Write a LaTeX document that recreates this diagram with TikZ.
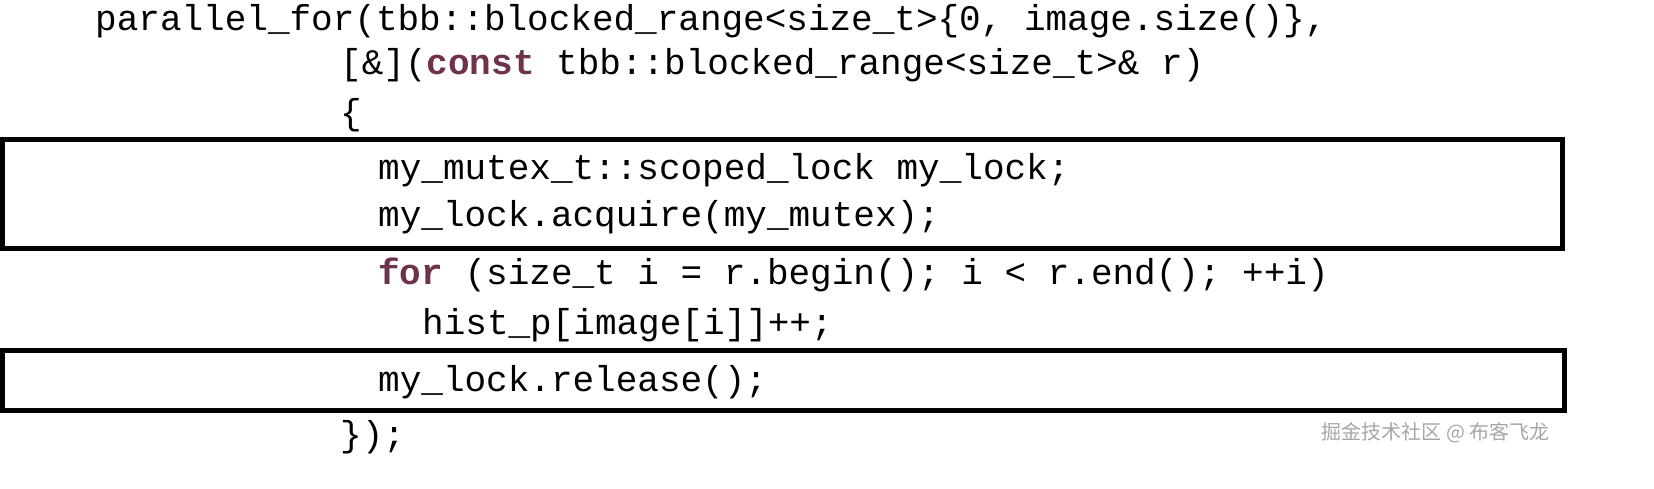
\documentclass[tikz,border=0pt]{standalone}
\usepackage{fontspec}
\setmonofont{Liberation Mono}
\newfontfamily\cjk{Noto Sans CJK SC}
\definecolor{keyword}{RGB}{110,50,75}
\newcommand{\kw}[1]{\textcolor{keyword}{\textbf{#1}}}

\begin{document}
\begin{tikzpicture}[x=1pt, y=1pt,
    codeline/.style = {anchor=mid west, inner sep=0pt, font=\fontsize{36}{36}\selectfont\ttfamily},
    lockbox/.style = {draw, line width=5pt}]

        % Fix the page to the size of the reference.
        \useasboundingbox (0,0) rectangle (1654,-488);

        % Lines of the listing.
        \node[codeline] (head)  at (95,-28)  {parallel\_for(tbb::blocked\_range<size\_t>\{0, image.size()\},};
        \node[codeline] (lambda) at (340,-72) {[\&](\kw{const} tbb::blocked\_range<size\_t>\& r)};
        \node[codeline] (open)  at (340,-122) {\{};
        \node[codeline] (decl)  at (378,-177) {my\_mutex\_t::scoped\_lock my\_lock;};
        \node[codeline] (acq)   at (378,-224) {my\_lock.acquire(my\_mutex);};
        \node[codeline] (loop)  at (378,-282) {\kw{for} (size\_t i = r.begin(); i < r.end(); ++i)};
        \node[codeline] (body)  at (422,-332) {hist\_p[image[i]]++;};
        \node[codeline] (rel)   at (378,-389) {my\_lock.release();};
        \node[codeline] (close) at (340,-444) {\});};

        % Boxes round the lock and the release.
        \draw[lockbox] (2.5,-139) rectangle (1562,-248);
        \draw[lockbox] (2.5,-350) rectangle (1564,-410);

        % Watermark.
        \node[anchor=mid east, inner sep=0pt, text=black!35, font=\fontsize{20}{20}\selectfont\cjk] (mark) at (1550,-437) {掘金技术社区 @ 布客飞龙};
    \end{tikzpicture}
\end{document}
